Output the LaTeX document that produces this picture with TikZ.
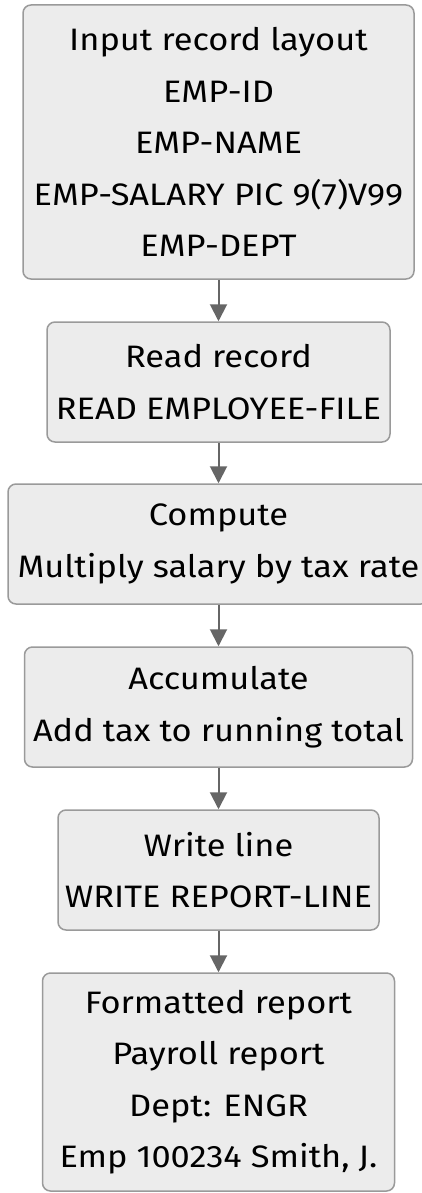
\documentclass[tikz,border=0pt]{standalone}
\usepackage{fontspec}
\setmainfont[FakeStretch=1.11]{Fira Sans}
\usetikzlibrary{arrows.meta}
\definecolor{boxfill}{HTML}{ECECEC}
\definecolor{boxline}{HTML}{9A9A9A}
\definecolor{flowline}{HTML}{666666}
\begin{document}
\begin{tikzpicture}[x=1pt,y=-1pt,
  stage/.style={draw=boxline, fill=boxfill, line width=1.5pt,
    rounded corners=8pt, align=center, inner sep=0pt,
    font=\fontsize{31}{51.5}\selectfont},
  flow/.style={draw=flowline, line width=2pt,
    -{Triangle[length=17pt,width=17pt]}}]
\useasboundingbox (0,0) rectangle (422,1193);
\clip (0,0) rectangle (422,1193);

\node[stage, minimum width=391pt, minimum height=274pt] (layout) at (218.5,142)
  {Input record layout\\EMP-ID\\EMP-NAME\\EMP-SALARY PIC 9(7)V99\\EMP-DEPT};
\node[stage, minimum width=343pt, minimum height=120pt] (read) at (218.5,382)
  {Read record\\READ EMPLOYEE-FILE};
\node[stage, minimum width=421pt, minimum height=120pt] (compute) at (218.5,544)
  {Compute\\Multiply salary by tax rate};
\node[stage, minimum width=388pt, minimum height=120pt] (accum) at (218.5,707)
  {Accumulate\\Add tax to running total};
\node[stage, minimum width=321pt, minimum height=120pt] (write) at (218.5,870)
  {Write line\\WRITE REPORT-LINE};
\node[stage, minimum width=352pt, minimum height=218pt] (report) at (218.5,1082)
  {Formatted report\\Payroll report\\Dept: ENGR\\Emp 100234 Smith, J.};

\draw[flow] (layout) -- (read);
\draw[flow] (read) -- (compute);
\draw[flow] (compute) -- (accum);
\draw[flow] (accum) -- (write);
\draw[flow] (write) -- (report);
\end{tikzpicture}
\end{document}
